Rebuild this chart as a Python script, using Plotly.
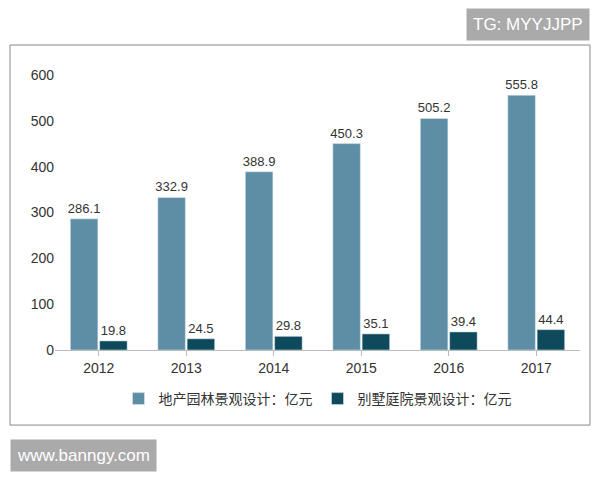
import plotly.graph_objects as go

years = ["2012", "2013", "2014", "2015", "2016", "2017"]
estate = [286.1, 332.9, 388.9, 450.3, 505.2, 555.8]
villa = [19.8, 24.5, 29.8, 35.1, 39.4, 44.4]

fig = go.Figure()
fig.add_bar(x=years, y=estate, name="地产园林景观设计：亿元", marker_color="#5d8ea6",
            text=[f"{v:.1f}" for v in estate], textposition="outside", cliponaxis=False)
fig.add_bar(x=years, y=villa, name="别墅庭院景观设计：亿元", marker_color="#0e4a5c",
            text=[f"{v:.1f}" for v in villa], textposition="outside", cliponaxis=False)
fig.update_traces(textfont=dict(size=13, color="#333"))
fig.update_layout(
    width=600, height=480, barmode="group", bargap=0.33, bargroupgap=0.06,
    uniformtext=dict(minsize=13, mode="show"),
    paper_bgcolor="white", plot_bgcolor="white",
    font=dict(family="Liberation Sans, Noto Sans CJK SC", size=14, color="#333"),
    margin=dict(l=47, r=28, t=67, b=138),
    yaxis=dict(range=[0, 600], dtick=100, showgrid=False, showline=False, ticks="", zeroline=False),
    xaxis=dict(showline=True, linecolor="#bbb", ticks="outside", tickcolor="#bbb", ticklen=5),
    legend=dict(orientation="h", x=0.5, xanchor="center", y=-0.12, yanchor="top", font=dict(size=14)),
    shapes=[dict(type="rect", xref="paper", yref="paper", x0=-0.0857, x1=1.019, y0=-0.273, y1=1.109,
                 line=dict(color="#888", width=1))],
    annotations=[
        dict(text="TG: MYYJJPP", xref="paper", yref="paper", x=1.019, y=1.182, xanchor="right", yanchor="middle",
             showarrow=False, bgcolor="#aaaaaa", font=dict(color="white", size=17), borderpad=6),
        dict(text="www.banngy.com", xref="paper", yref="paper", x=-0.0857, y=-0.382, xanchor="left", yanchor="middle",
             showarrow=False, bgcolor="#aaaaaa", font=dict(color="white", size=17), borderpad=6),
    ],
)
fig.write_html("out.html")
